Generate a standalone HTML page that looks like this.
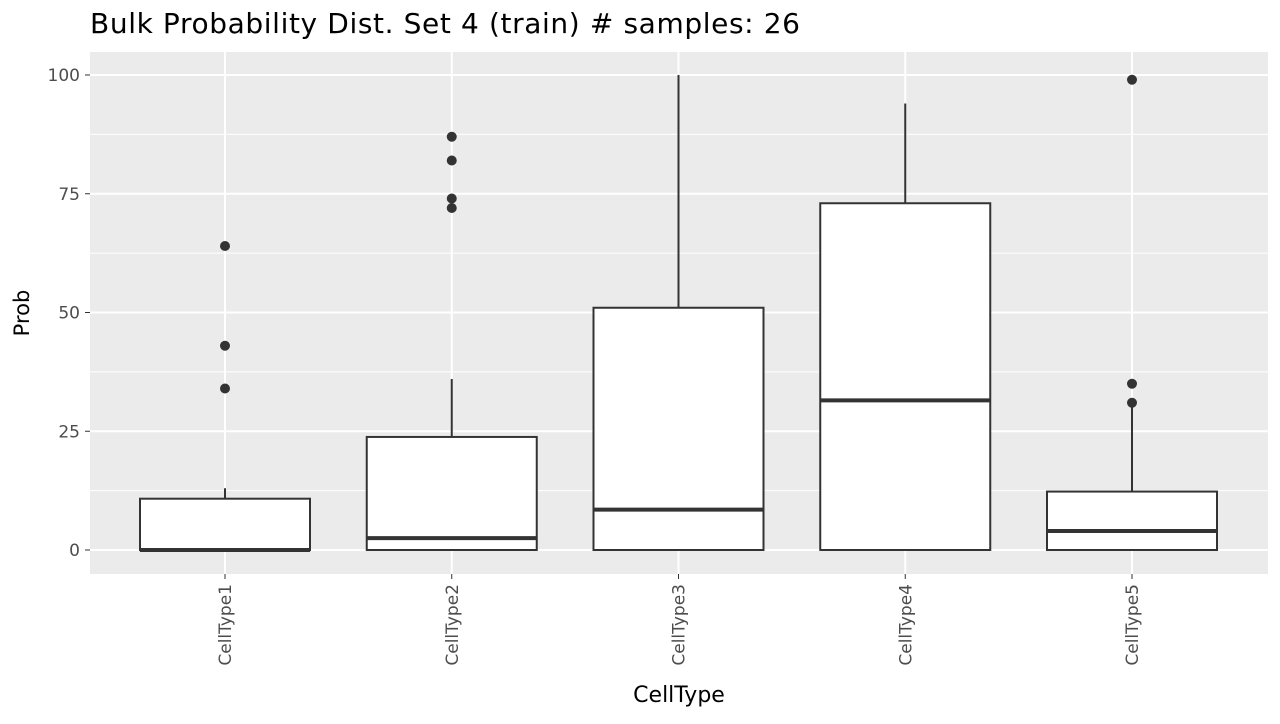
<!DOCTYPE html>
<html><head><meta charset="utf-8"><style>
body{margin:0;background:#fff;font-family:"DejaVu Sans","Liberation Sans",sans-serif}
</style></head><body>
<svg id="chart" width="1280" height="720" xmlns="http://www.w3.org/2000/svg" font-family="DejaVu Sans, Liberation Sans, sans-serif">
<text x="90" y="33" font-size="28" fill="#000" textLength="710">Bulk Probability Dist. Set 4 (train) # samples: 26</text>
<rect x="90" y="52" width="1178" height="522" fill="#EBEBEB"/>
<g id="grid"></g><g id="marks"></g><g id="axes"></g>
<text x="679" y="702" font-size="22" text-anchor="middle" fill="#000">CellType</text>
<text transform="translate(29,313) rotate(-90)" font-size="21" text-anchor="middle" fill="#000">Prob</text>
</svg>
<script>
const categories=["CellType1","CellType2","CellType3","CellType4","CellType5"];
const q1=[0,0,0,0,0];
const medians=[0,2.5,8.5,31.5,4];
const q3=[10.8,23.8,51,73,12.3];
const whiskLow=[0,0,0,0,0];
const whiskHigh=[13,36,100,94,31];
const outliers=[[64,43,34],[72,74,82,87],[],[],[99,35,31]];
const yTicks=[0,25,50,75,100];
const ns="http://www.w3.org/2000/svg";
const y=v=>550-v*4.75;
const x=i=>225+i*226.75;
const half=85;
function mk(t,a,p){const e=document.createElementNS(ns,t);for(const k in a)e.setAttribute(k,a[k]);p.appendChild(e);return e;}
const grid=document.getElementById('grid'),marks=document.getElementById('marks'),axes=document.getElementById('axes');
[12.5,37.5,62.5,87.5].forEach(v=>{const l=mk('line',{x1:90,x2:1268,y1:y(v),y2:y(v),stroke:'#fff','stroke-width':1},grid);

});
yTicks.forEach(v=>{const l=mk('line',{x1:90,x2:1268,y1:y(v),y2:y(v),stroke:'#fff','stroke-width':2},grid);


mk('line',{x1:85,x2:90,y1:y(v),y2:y(v),stroke:'#333','stroke-width':1},axes);
const t=mk('text',{x:80,y:y(v)+6,'font-size':17,'text-anchor':'end',fill:'#4d4d4d'},axes);t.textContent=v;

});
categories.forEach((c,i)=>{const cx=x(i);
const g=mk('line',{x1:cx,x2:cx,y1:52,y2:574,stroke:'#fff','stroke-width':2},grid);


mk('line',{x1:cx,x2:cx,y1:574,y2:579,stroke:'#333'},axes);
const t=mk('text',{transform:`translate(${cx+6},584) rotate(-90)`,'font-size':17,'text-anchor':'end',fill:'#4d4d4d'},axes);t.textContent=c;


const grp=mk('g',{},marks);


mk('line',{x1:cx,x2:cx,y1:y(q3[i]),y2:y(whiskHigh[i]),stroke:'#333','stroke-width':2},grp);
mk('line',{x1:cx,x2:cx,y1:y(q1[i]),y2:y(whiskLow[i]),stroke:'#333','stroke-width':2},grp);
mk('rect',{x:cx-half,y:y(q3[i]),width:half*2,height:y(q1[i])-y(q3[i]),fill:'#fff',stroke:'#333','stroke-width':2},grp);
mk('line',{x1:cx-half,x2:cx+half,y1:y(medians[i]),y2:y(medians[i]),stroke:'#333','stroke-width':4},grp);
outliers[i].forEach(o=>{const p=mk('circle',{cx:cx,cy:y(o),r:5,fill:'#333'},grp);

});
});
</script>
</body></html>
